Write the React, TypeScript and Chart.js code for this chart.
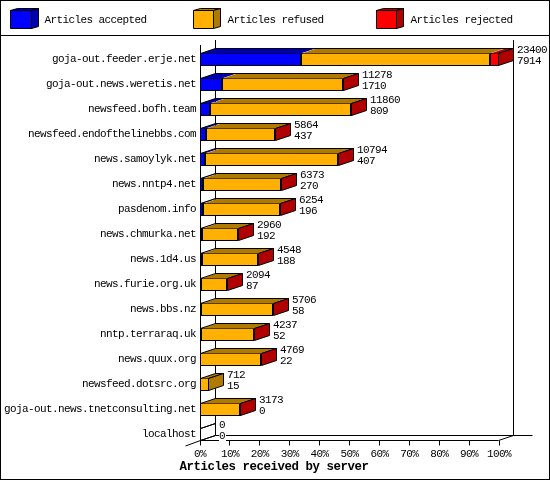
import React, { useEffect, useRef } from "react";
import { Chart, registerables } from "chart.js";

Chart.register(...registerables);

const servers = [
  "goja-out.feeder.erje.net",
  "goja-out.news.weretis.net",
  "newsfeed.bofh.team",
  "newsfeed.endofthelinebbs.com",
  "news.samoylyk.net",
  "news.nntp4.net",
  "pasdenom.info",
  "news.chmurka.net",
  "news.1d4.us",
  "news.furie.org.uk",
  "news.bbs.nz",
  "nntp.terraraq.uk",
  "news.quux.org",
  "newsfeed.dotsrc.org",
  "goja-out.news.tnetconsulting.net",
  "localhost",
];
const accepted = [7914, 1710, 809, 437, 407, 270, 196, 192, 188, 87, 58, 52, 22, 15, 0, 0];
const refused = [14786, 9508, 11021, 5407, 10367, 6088, 6048, 2760, 4350, 2002, 5643, 4180, 4742, 697, 3168, 0];
const rejected = [700, 60, 30, 20, 20, 15, 10, 8, 10, 5, 5, 5, 5, 0, 5, 0];
const totals = [23400, 11278, 11860, 5864, 10794, 6373, 6254, 2960, 4548, 2094, 5706, 4237, 4769, 712, 3173, 0];
const percentTicks = ["0%", "10%", "20%", "30%", "40%", "50%", "60%", "70%", "80%", "90%", "100%"];
const axisTitle = "Articles received by server";
const legendNames = ["Articles accepted", "Articles refused", "Articles rejected"];
const frontColors = ["#0000FF", "#FFB000", "#FF0000"];
const darkColors = ["#0000B0", "#B07A00", "#B00000"];

const FONT_FAMILY = '"Liberation Mono"';
const FONT = `11px ${FONT_FAMILY}`;
const DX = 15;
const DY = 5;

const line = (ctx: CanvasRenderingContext2D, pts: number[][]) => {
  ctx.beginPath();
  pts.forEach(([x, y], i) => (i ? ctx.lineTo(x, y) : ctx.moveTo(x, y)));
  ctx.stroke();
};
const poly = (ctx: CanvasRenderingContext2D, pts: number[][], fill: string | null) => {
  ctx.beginPath();
  pts.forEach(([x, y], i) => (i ? ctx.lineTo(x, y) : ctx.moveTo(x, y)));
  ctx.closePath();
  if (fill) {
    ctx.fillStyle = fill;
    ctx.fill();
  }
};

const snapBars = {
  id: "snapBars",
  afterDatasetsUpdate(chart: any) {
    chart.data.datasets.forEach((_: any, d: number) => {
      chart.getDatasetMeta(d).data.forEach((b: any) => {
        b.x = Math.round(b.x);
        b.base = Math.round(b.base);
      });
    });
  },
};

const frame = {
  id: "frame",
  beforeDraw(chart: any) {
    chart.ctx.letterSpacing = "-0.6px";
  },
  beforeDatasetsDraw(chart: any) {
    const ctx: CanvasRenderingContext2D = chart.ctx;
    const { left, right } = chart.chartArea;
    const xs = chart.scales.x;
    ctx.save();
    ctx.strokeStyle = "#000";
    ctx.lineWidth = 1;
    ctx.strokeRect(0.5, 0.5, 549, 479);
    line(ctx, [[0, 35.5], [550, 35.5]]);

    const frontY = 440.5;
    const backY = frontY - DY;
    const L = left + 0.5;
    const R = right - 0.5;
    line(ctx, [[L, 45], [L, frontY + 1]]);
    line(ctx, [[L + DX, 40], [L + DX, backY]]);
    line(ctx, [[R + DX, 40], [R + DX, backY]]);
    line(ctx, [[L + DX, backY], [R + DX + 19, backY]]);
    line(ctx, [[L, frontY], [R, frontY]]);
    line(ctx, [[L - DX, frontY + DY + 0.5], [L, frontY], [L + DX, backY]]);
    line(ctx, [[R, frontY], [R + DX, backY]]);
    xs.ticks.forEach((t: any) => {
      const px = Math.floor(xs.getPixelForValue(t.value)) + 0.5;
      line(ctx, [[px, frontY], [px, frontY + 5]]);
    });

    // legend
    const boxX = [10, 193, 376];
    const boxW = [21, 20, 20];
    ctx.font = FONT;
    ctx.textBaseline = "middle";
    chart.data.datasets.forEach((ds: any, i: number) => {
      const x = boxX[i] + 0.5;
      const w = boxW[i];
      const y = 10.5;
      const h = 18;
      const dx = 7;
      const dy = 2;
      poly(ctx, [[x, y], [x + dx, y - dy], [x + w + dx, y - dy], [x + w, y]], darkColors[i]);
      ctx.stroke();
      poly(ctx, [[x + w, y], [x + w + dx, y - dy], [x + w + dx, y + h - dy], [x + w, y + h]], darkColors[i]);
      ctx.stroke();
      poly(ctx, [[x, y], [x + w, y], [x + w, y + h], [x, y + h]], frontColors[i]);
      ctx.stroke();
      ctx.fillStyle = "#000";
      ctx.textAlign = "left";
      ctx.fillText(ds.label, boxX[i] + 34.5, 20);
    });

    // axis title
    ctx.font = `bold 12.4px ${FONT_FAMILY}`;
    ctx.letterSpacing = "-0.44px";
    ctx.textAlign = "center";
    ctx.fillStyle = "#000";
    ctx.fillText(axisTitle, 274, 467);
    ctx.restore();
  },
  afterDatasetsDraw(chart: any) {
    const ctx: CanvasRenderingContext2D = chart.ctx;
    const metas = [0, 1, 2].map((d) => chart.getDatasetMeta(d));
    ctx.save();
    ctx.strokeStyle = "#000";
    ctx.lineWidth = 1;
    servers.forEach((_, r) => {
      const first = metas[0].data[r];
      const T = first.y - first.height / 2 + 0.5;
      const B = first.y + first.height / 2 - 0.5;
      const L = first.base + 0.5;
      let R = L;
      let lastIdx = -1;
      metas.forEach((m, d) => {
        const b = m.data[r];
        const val = [accepted, refused, rejected][d][r];
        if (val > 0) {
          const a = b.base + 0.5;
          const e = Math.max(b.x - 0.5, a);
          poly(ctx, [[a, T], [a + DX, T - DY], [e + DX, T - DY], [e, T]], darkColors[d]);
          R = e;
          lastIdx = d;
        }
      });
      line(ctx, [[L, T], [L + DX, T - DY], [R + DX, T - DY], [R, T]]);
      if (lastIdx >= 0) {
        poly(ctx, [[R, T], [R + DX, T - DY], [R + DX, B - DY], [R, B]], darkColors[lastIdx]);
        ctx.stroke();
      } else {
        line(ctx, [[L, B], [L + DX, B - DY]]);
      }

      // value labels
      const tx = Math.floor(R) + DX + 4;
      const cy = first.y;
      ctx.font = FONT;
      ctx.textAlign = "left";
      ctx.textBaseline = "middle";
      const rows: [string, number][] = [
        [String(totals[r]), cy - 9],
        [String(accepted[r]), cy + 2],
      ];
      rows.forEach(([s, y]) => {
        const w = ctx.measureText(s).width;
        ctx.fillStyle = "#fff";
        ctx.fillRect(tx, y - 5, w + 1, 10);
        ctx.fillStyle = "#000";
        ctx.fillText(s, tx, y);
      });
    });
    ctx.restore();
  },
};

export default function App() {
  const ref = useRef<HTMLCanvasElement>(null);
  useEffect(() => {
    document.body.style.margin = "0";
    const font = { family: FONT_FAMILY, size: 11 };
    const series = [accepted, refused, rejected];
    const chart = new Chart(ref.current as HTMLCanvasElement, {
      type: "bar",
      plugins: [snapBars, frame],
      data: {
        labels: servers,
        datasets: series.map((data, i) => ({
          label: legendNames[i],
          data,
          backgroundColor: frontColors[i],
          borderColor: "#000",
          borderWidth: 1,
          borderSkipped: false,
          inflateAmount: 0,
          barThickness: 13,
        })),
      },
      options: {
        indexAxis: "y",
        animation: false,
        responsive: false,
        devicePixelRatio: 1,
        layout: { padding: { left: 0, top: 47, right: 51, bottom: 20 } },
        plugins: { legend: { display: false }, tooltip: { enabled: false } },
        scales: {
          x: {
            stacked: true,
            min: 0,
            max: 23400,
            grid: { display: false, drawTicks: false },
            border: { display: false },
            afterFit: (s: any) => {
              s.height = 13;
            },
            ticks: {
              stepSize: 2340,
              autoSkip: false,
              maxRotation: 0,
              padding: 0,
              color: "#000",
              font,
              callback: (_: any, i: number) => percentTicks[i],
            },
          },
          y: {
            stacked: true,
            grid: { display: false, drawTicks: false },
            border: { display: false },
            afterFit: (s: any) => {
              s.width = 200;
            },
            ticks: { autoSkip: false, padding: 4, color: "#000", font },
          },
        },
      },
    } as any);
    return () => chart.destroy();
  }, []);
  return <canvas ref={ref} width={550} height={480} style={{ display: "block" }} />;
}
